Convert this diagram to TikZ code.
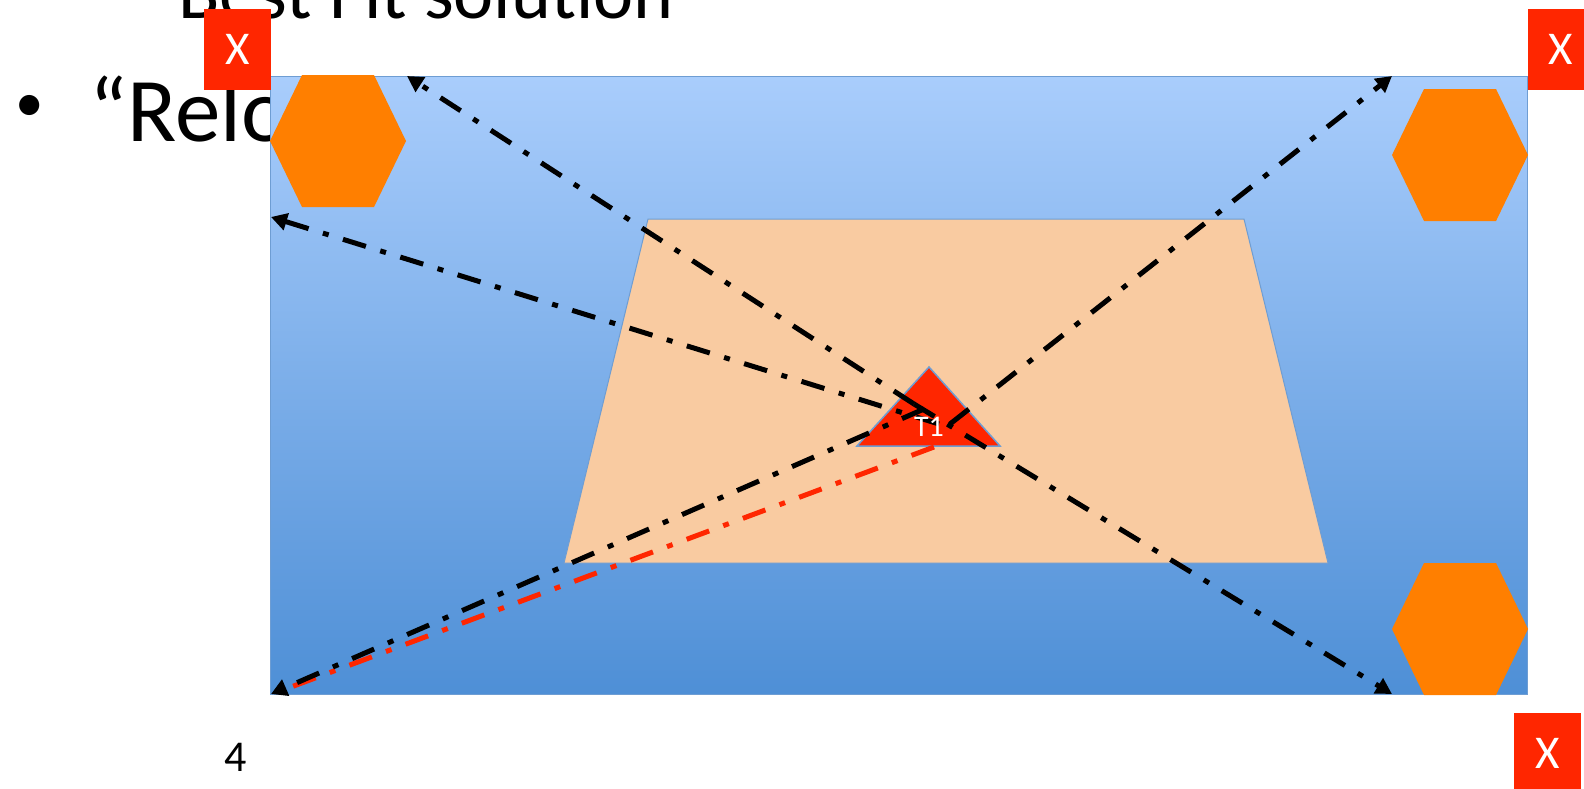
\documentclass[tikz,border=0pt]{standalone}
\usepackage{fontspec}
\setmainfont{Carlito}
\usetikzlibrary{arrows.meta, positioning}
\definecolor{slideBlueTop}{HTML}{A9CDFC}
\definecolor{slideBlueBot}{HTML}{4E8FD6}
\definecolor{slideEdge}{HTML}{6E9DD3}
\definecolor{zonePeach}{HTML}{F9CBA1}
\definecolor{markRed}{HTML}{FF2600}
\definecolor{hexOrange}{HTML}{FF7F00}

\begin{document}
\begin{tikzpicture}[
  x=1pt, y=-1pt,
  xbox/.style={fill=markRed, minimum width=67pt, minimum height=81pt, inner sep=0pt,
               text=white, font=\fontsize{47}{47}\selectfont},
  hexa/.style={fill=hexOrange},
  dashdot/.style={line width=5pt, dash pattern=on 24pt off 15pt on 6pt off 15pt},
  probe/.style={dashdot, -{Triangle[length=16pt, width=17pt]}},
]
  \useasboundingbox (0,0) rectangle (1584,788);

  % slide text behind the field
  \node[anchor=base west, font=\fontsize{76}{76}\selectfont] (sub) at (175,18) {Best Fit solution};
  \node[inner sep=0pt, font=\fontsize{57}{57}\selectfont] (dot) at (30,108) {•};
  \node[anchor=base west, font=\fontsize{91}{91}\selectfont] (relo) at (86,141) {“Relo};
  \node[font=\fontsize{44}{44}\selectfont] (num) at (236,757) {4};

  % field and zone
  \path[draw=slideEdge, line width=1pt, top color=slideBlueTop, bottom color=slideBlueBot]
    (270,76) rectangle (1527,694);
  \filldraw[fill=zonePeach, draw=slideEdge, line width=1pt]
    (648,219) -- (1244,219) -- (1328,563) -- (564,563) -- cycle;

  % sensors
  \foreach \cx/\cy in {338/141, 1460/155, 1460/629}
    \fill[hexa] (\cx-68,\cy) -- (\cx-36,\cy-66) -- (\cx+36,\cy-66) -- (\cx+68,\cy)
      -- (\cx+36,\cy+66) -- (\cx-36,\cy+66) -- cycle;

  % target
  \filldraw[fill=markRed, draw=slideEdge, line width=1.5pt]
    (929,367) -- (1000,446) -- (857,446) -- cycle;

  \coordinate (hub)    at (914,404);
  \coordinate (hubL)   at (939,424);
  \coordinate (hubTR)  at (950,424);
  \coordinate (hubBL)  at (924,409);
  \coordinate (hubRed) at (934,447);
  \coordinate (tipTL)  at (407,76);
  \coordinate (tipL)   at (271,217);
  \coordinate (tipTR)  at (1392,76);
  \coordinate (tipBR)  at (1392,694);
  \coordinate (tipBL)  at (271,694);
  \coordinate (endRed) at (283,690);

  \draw[dashdot, markRed] (hubRed) -- (endRed);
  \draw[probe] (hub)   -- (tipTL);
  \draw[probe] (hub)   -- (tipBR);
  \draw[probe] (hubL)  -- (tipL);
  \draw[probe] (hubTR) -- (tipTR);
  \draw[probe] (hubBL) -- (tipBL);

  \node[text=white, font=\fontsize{30}{30}\selectfont] (t1) at (929,427) {T1};

  % corner marks
  \node[xbox] (xTL) at (237.5,49.5) {X};
  \node[xbox] (xTR) at (1561,49.5) {X};
  \node[xbox] (xBR) at (1547.5,753.5) {X};
\end{tikzpicture}
\end{document}
